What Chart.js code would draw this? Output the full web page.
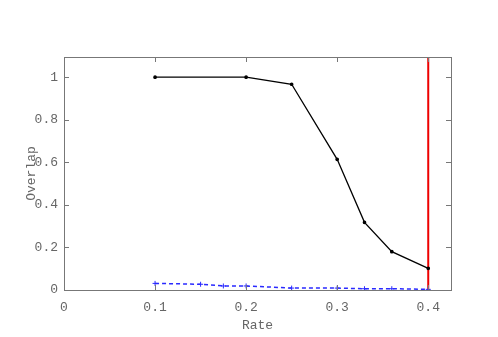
<!DOCTYPE html>
<html>
<head>
<meta charset="utf-8">
<script src="https://cdn.jsdelivr.net/npm/chart.js@4/dist/chart.umd.min.js"></script>
<style>
  html, body { margin: 0; padding: 0; background: #fff; }
  #wrap { width: 498px; height: 337px; }
</style>
</head>
<body>
<div id="wrap"><canvas id="c" width="498" height="337"></canvas></div>
<script>
// values
var overlapRate = [0.1, 0.2, 0.25, 0.3, 0.33, 0.36, 0.4];
var overlapVals = [1.0, 1.0, 0.967, 0.614, 0.318, 0.18, 0.102];

var lowRate = [0.1, 0.15, 0.175, 0.2, 0.25, 0.3, 0.33, 0.36, 0.4];
var lowVals = [0.031, 0.027, 0.019, 0.019, 0.009, 0.009, 0.006, 0.006, 0.003];

var cutRate = [0.4, 0.4];
var cutVals = [0, 1.095];

var xTicks = [0, 0.1, 0.2, 0.3, 0.4];
var yTicks = [0, 0.2, 0.4, 0.6, 0.8, 1];

function pts(xs, ys) {
  return xs.map(function(x, i) { return { x: x, y: ys[i] }; });
}

var monoFont = { family: '"Liberation Mono", "DejaVu Sans Mono", monospace', size: 13 };
var labelColor = '#666';

// border box and inward tick marks on all four sides
var frame = {
  id: 'frame',
  afterDatasetsDraw: function(chart) {
    var ctx = chart.ctx, a = chart.chartArea;
    var xs = chart.scales.x, ys = chart.scales.y;
    ctx.save();
    ctx.strokeStyle = '#777';
    ctx.lineWidth = 1;
    ctx.beginPath();
    xTicks.forEach(function(v) {
      var px = Math.round(xs.getPixelForValue(v)) + 0.5;
      ctx.moveTo(px, a.bottom); ctx.lineTo(px, a.bottom - 5);
      ctx.moveTo(px, a.top); ctx.lineTo(px, a.top + 5);
    });
    yTicks.forEach(function(v) {
      var py = Math.round(ys.getPixelForValue(v)) + 0.5;
      ctx.moveTo(a.left, py); ctx.lineTo(a.left + 5, py);
      ctx.moveTo(a.right, py); ctx.lineTo(a.right - 5, py);
    });
    ctx.stroke();
    ctx.strokeRect(Math.round(a.left) + 0.5, Math.round(a.top) + 0.5,
      Math.round(a.right - a.left), Math.round(a.bottom - a.top));
    ctx.restore();
  }
};

new Chart(document.getElementById('c'), {
  type: 'scatter',
  data: {
    datasets: [
      {
        label: 'overlap',
        data: pts(overlapRate, overlapVals),
        showLine: true,
        borderColor: '#000',
        backgroundColor: '#000',
        borderWidth: 1.3,
        pointRadius: 1.2,
        pointStyle: 'circle'
      },
      {
        label: 'low',
        data: pts(lowRate, lowVals),
        showLine: true,
        borderColor: '#2a2aff',
        backgroundColor: '#2a2aff',
        borderDash: [4, 3],
        borderWidth: 1.5,
        pointRadius: 2.5,
        pointStyle: 'cross',
        pointBorderWidth: 1
      },
      {
        label: 'cut',
        data: pts(cutRate, cutVals),
        showLine: true,
        borderColor: '#ee0000',
        borderWidth: 2,
        pointRadius: 0
      }
    ]
  },
  options: {
    responsive: false,
    animation: false,
    layout: { padding: { top: 57, right: 47, left: 20, bottom: 0 } },
    plugins: { legend: { display: false }, tooltip: { enabled: false } },
    scales: {
      x: {
        type: 'linear',
        min: 0,
        max: 0.425,
        afterBuildTicks: function(s) { s.ticks = xTicks.map(function(v) { return { value: v }; }); },
        afterFit: function(s) { s.height = 47; },
        grid: { display: false, drawTicks: false },
        border: { display: false },
        ticks: { color: labelColor, font: monoFont, padding: 10, maxRotation: 0,
          callback: function(v) { return String(v); } },
        title: { display: true, text: 'Rate', color: labelColor, font: monoFont, padding: { top: 7 } }
      },
      y: {
        type: 'linear',
        min: 0,
        max: 1.095,
        afterBuildTicks: function(s) { s.ticks = yTicks.map(function(v) { return { value: v }; }); },
        afterFit: function(s) { s.width = 44; },
        grid: { display: false, drawTicks: false },
        border: { display: false },
        ticks: { color: labelColor, font: monoFont, padding: 6,
          callback: function(v) { return String(v); } },
        title: { display: true, text: 'Overlap', color: labelColor, font: monoFont, padding: { bottom: 0 } }
      }
    }
  },
  plugins: [frame]
});
</script>
</body>
</html>
